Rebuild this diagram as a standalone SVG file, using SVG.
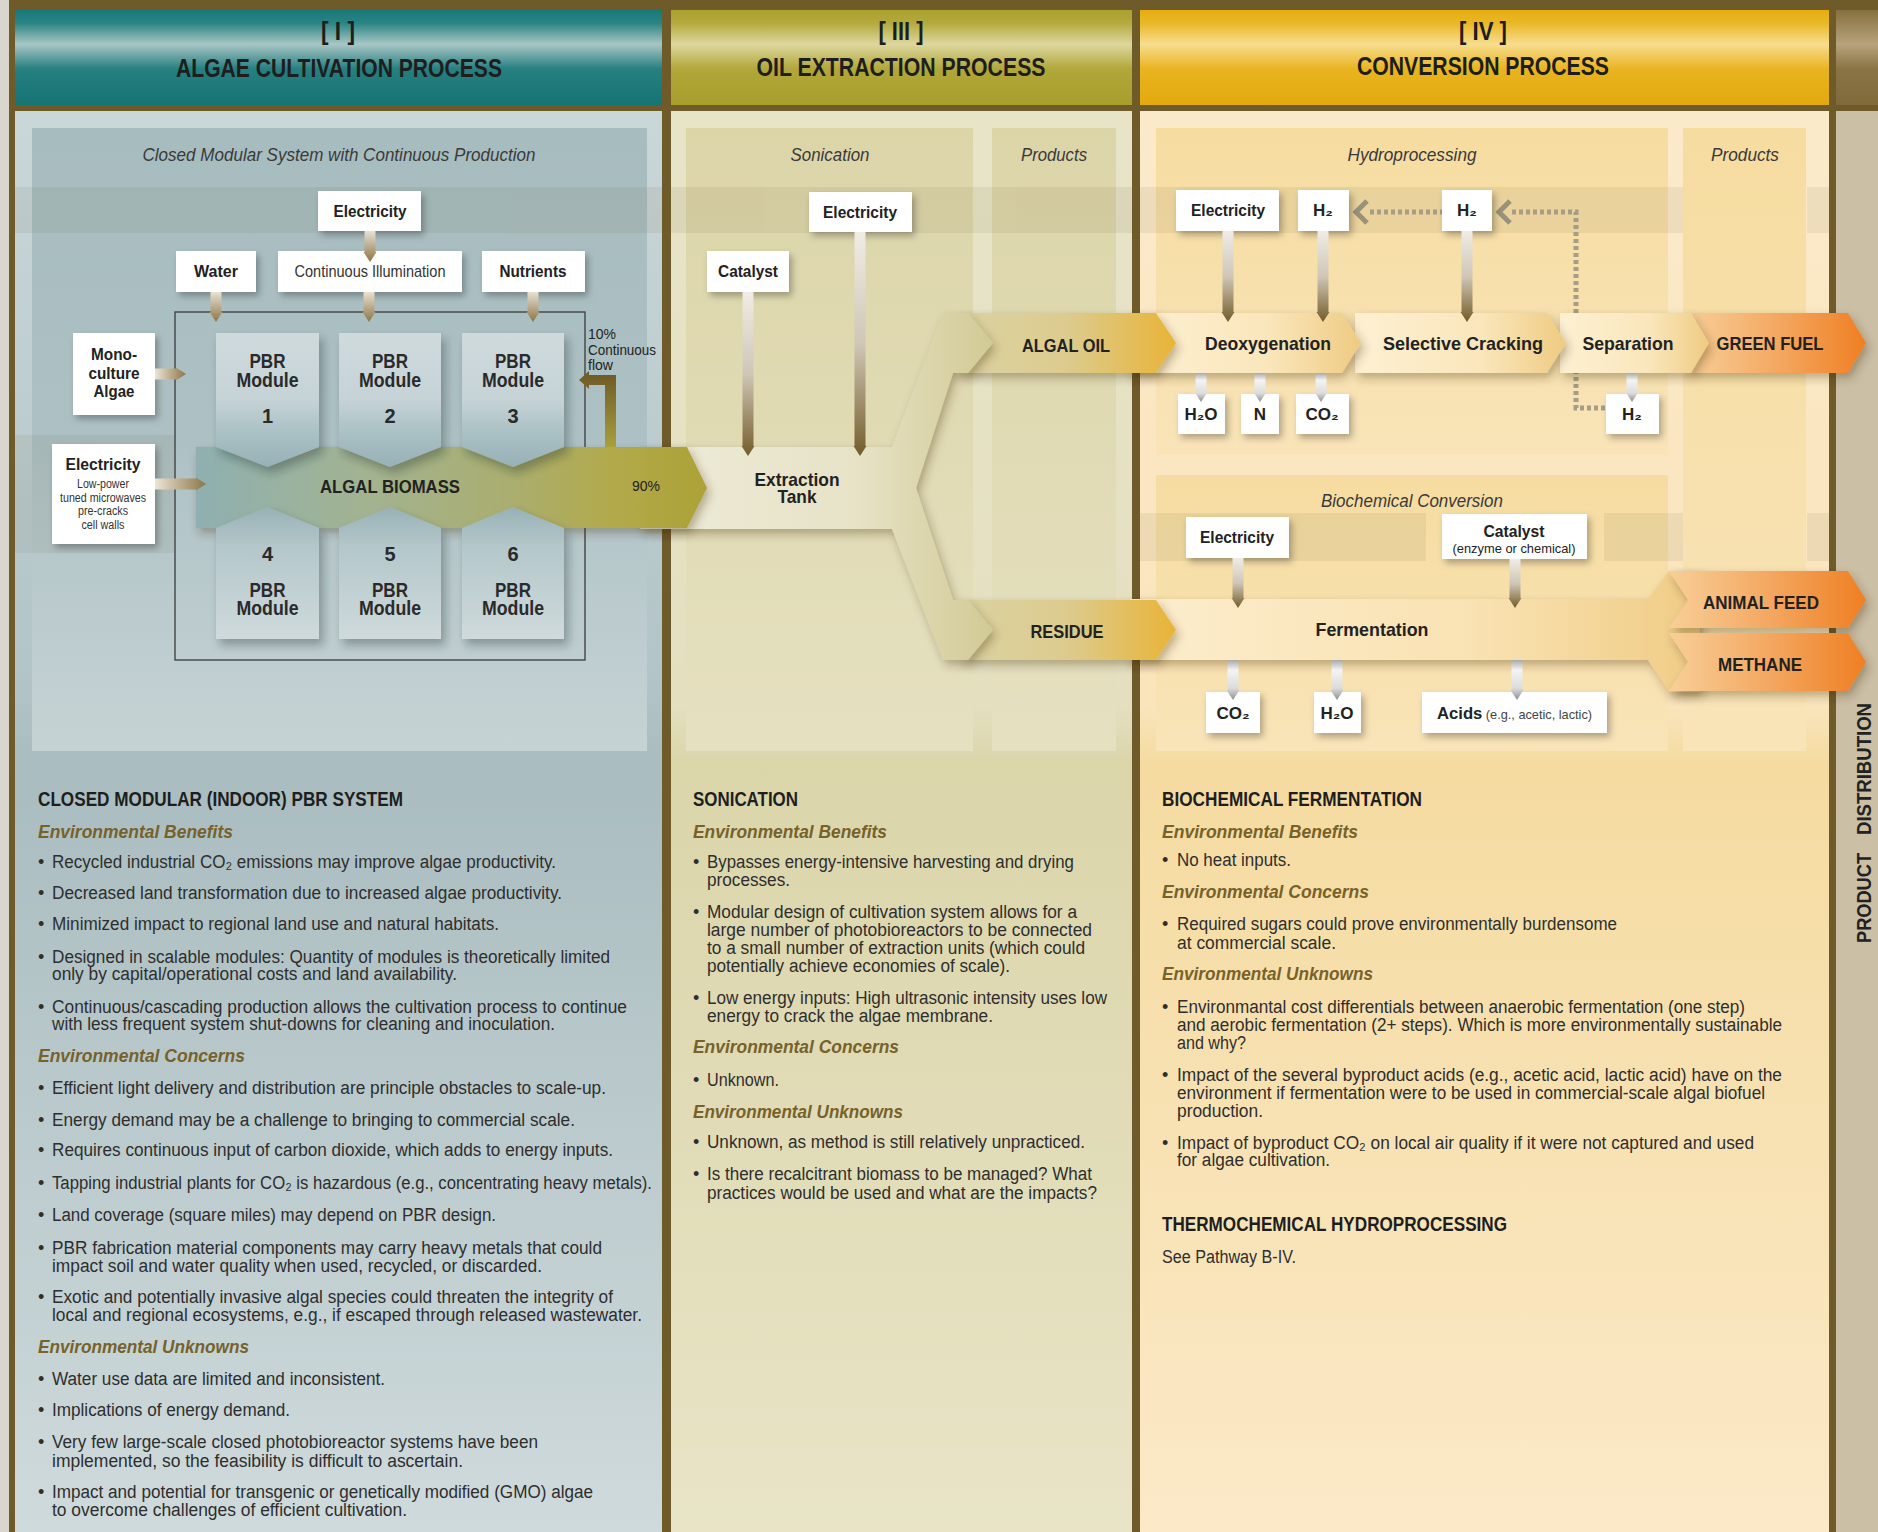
<svg xmlns="http://www.w3.org/2000/svg" width="1878" height="1532" viewBox="0 0 1878 1532">
<defs>
<style>
text{font-family:"Liberation Sans Narrow","Liberation Sans",Arial,sans-serif;fill:#222}
.hd{font-size:26px;font-weight:bold;text-anchor:middle;fill:#1e1e1e}
.sub{font-size:18px;font-style:italic;text-anchor:middle;fill:#3a3a3a}
.lb{font-size:17px;font-weight:bold;text-anchor:middle;fill:#222}
.ln{font-size:17px;text-anchor:middle;fill:#333}
.mod{font-size:20px;font-weight:bold;text-anchor:middle;fill:#2a2a2a}
.flow{font-size:19px;font-weight:bold;text-anchor:middle;fill:#222}
.sm{font-size:12px;text-anchor:middle;fill:#333}
.h2{font-size:19.5px;font-weight:bold;fill:#1e1e1e}
.eh{font-size:19px;font-weight:bold;font-style:italic;fill:#76622a}
.bt{font-size:18px;fill:#2e2e2e}
.box{fill:#fff;filter:url(#sh)}
.st1{fill:url(#gSt1)}
.st2{fill:url(#gSt2)}
.st3{fill:url(#gSt3)}
.seg{fill:url(#gSeg);filter:url(#bs)}
.prod{fill:url(#gProd);filter:url(#bs)}
.oil{fill:url(#gOil);filter:url(#bs)}
</style>
<filter id="sh" x="-20%" y="-20%" width="150%" height="170%"><feDropShadow dx="3" dy="4" stdDeviation="3.5" flood-color="#000" flood-opacity="0.3"/></filter>
<filter id="bs" x="-5%" y="-25%" width="115%" height="170%"><feDropShadow dx="3" dy="5" stdDeviation="5" flood-color="#3a2a00" flood-opacity="0.33"/></filter>
<filter id="ms" x="-20%" y="-20%" width="150%" height="150%"><feDropShadow dx="4" dy="6" stdDeviation="5" flood-color="#1a2a2a" flood-opacity="0.35"/></filter>
<linearGradient id="gHI" x1="0" y1="0" x2="0" y2="1"><stop offset="0" stop-color="#187878"/><stop offset="0.14" stop-color="#2b8585"/><stop offset="0.36" stop-color="#a9c6c5"/><stop offset="0.62" stop-color="#267f80"/><stop offset="1" stop-color="#167474"/></linearGradient>
<linearGradient id="gHIII" x1="0" y1="0" x2="0" y2="1"><stop offset="0" stop-color="#aba12e"/><stop offset="0.14" stop-color="#b4aa3e"/><stop offset="0.36" stop-color="#ddd79e"/><stop offset="0.62" stop-color="#b1a73a"/><stop offset="1" stop-color="#a89e2c"/></linearGradient>
<linearGradient id="gHIV" x1="0" y1="0" x2="0" y2="1"><stop offset="0" stop-color="#e6ad10"/><stop offset="0.14" stop-color="#eab827"/><stop offset="0.36" stop-color="#f7dd8f"/><stop offset="0.62" stop-color="#e9b420"/><stop offset="1" stop-color="#e3a90f"/></linearGradient>
<linearGradient id="gHR" x1="0" y1="0" x2="0" y2="1"><stop offset="0" stop-color="#86703f"/><stop offset="0.36" stop-color="#b7a37c"/><stop offset="0.62" stop-color="#8a7446"/><stop offset="1" stop-color="#80693a"/></linearGradient>
<linearGradient id="gBI" x1="0" y1="0" x2="0" y2="1"><stop offset="0" stop-color="#cad7d9"/><stop offset="0.4" stop-color="#b2c4c7"/><stop offset="0.46" stop-color="#a9bcbf"/><stop offset="1" stop-color="#cfdadc"/></linearGradient>
<linearGradient id="gBIi" x1="0" y1="0" x2="0" y2="1"><stop offset="0" stop-color="#a7bcbf"/><stop offset="0.5" stop-color="#adc1c4"/><stop offset="1" stop-color="#c6d3d5"/></linearGradient>
<linearGradient id="gBIII" x1="0" y1="0" x2="0" y2="1"><stop offset="0" stop-color="#e8e4c8"/><stop offset="0.42" stop-color="#e3dfbf"/><stop offset="0.46" stop-color="#dbd5aa"/><stop offset="1" stop-color="#e8e4c6"/></linearGradient>
<linearGradient id="gBIIIi" x1="0" y1="0" x2="0" y2="1"><stop offset="0" stop-color="#dcd5a8"/><stop offset="1" stop-color="#e5e0c0"/></linearGradient>
<linearGradient id="gBIV" x1="0" y1="0" x2="0" y2="1"><stop offset="0" stop-color="#fbeaca"/><stop offset="0.42" stop-color="#f9e4bb"/><stop offset="0.46" stop-color="#f5dba0"/><stop offset="1" stop-color="#fbe9c8"/></linearGradient>
<linearGradient id="gBIVi" x1="0" y1="0" x2="0" y2="1"><stop offset="0" stop-color="#f6dca0"/><stop offset="1" stop-color="#f9e4b8"/></linearGradient>
<linearGradient id="gMt" x1="0" y1="0" x2="0" y2="1"><stop offset="0" stop-color="#cfdadd"/><stop offset="0.5" stop-color="#c6d3d6"/><stop offset="0.75" stop-color="#a9c0c4"/><stop offset="1" stop-color="#98b1b6"/></linearGradient>
<linearGradient id="gMb" x1="0" y1="0" x2="0" y2="1"><stop offset="0" stop-color="#98b1b6"/><stop offset="0.3" stop-color="#b4c7ca"/><stop offset="1" stop-color="#cfdadc"/></linearGradient>
<linearGradient id="gBio" gradientUnits="userSpaceOnUse" x1="196" y1="0" x2="707" y2="0"><stop offset="0" stop-color="#8fb0b1"/><stop offset="0.35" stop-color="#a3b38f"/><stop offset="0.62" stop-color="#aaae6e"/><stop offset="0.82" stop-color="#b2a94a"/><stop offset="1" stop-color="#aca236"/></linearGradient>
<linearGradient id="gRet" x1="0" y1="1" x2="0" y2="0"><stop offset="0" stop-color="#a89f3d"/><stop offset="1" stop-color="#6d5826"/></linearGradient>
<linearGradient id="gY" gradientUnits="userSpaceOnUse" x1="640" y1="0" x2="993" y2="0"><stop offset="0" stop-color="#eeebd9"/><stop offset="0.6" stop-color="#e7e3c7"/><stop offset="1" stop-color="#d2ca95"/></linearGradient>
<linearGradient id="gOil" x1="0" y1="0" x2="1" y2="0"><stop offset="0" stop-color="#dbd3a2"/><stop offset="0.5" stop-color="#dccb8e"/><stop offset="1" stop-color="#e9b437"/></linearGradient>
<linearGradient id="gSeg" x1="0" y1="0" x2="1" y2="0"><stop offset="0" stop-color="#fdf0d2"/><stop offset="0.6" stop-color="#fae6bb"/><stop offset="1" stop-color="#efcb82"/></linearGradient>
<linearGradient id="gProd" x1="0" y1="0" x2="1" y2="0"><stop offset="0" stop-color="#f8cf98"/><stop offset="0.5" stop-color="#f4a862"/><stop offset="1" stop-color="#ef7f22"/></linearGradient>
<linearGradient id="gFer" gradientUnits="userSpaceOnUse" x1="1130" y1="0" x2="1700" y2="0"><stop offset="0" stop-color="#fcedcc"/><stop offset="0.6" stop-color="#f9e2b3"/><stop offset="1" stop-color="#f0cc85"/></linearGradient>
<linearGradient id="gSt1" x1="0" y1="0" x2="0" y2="1"><stop offset="0" stop-color="#e9e1d3"/><stop offset="1" stop-color="#8d7546"/></linearGradient>
<linearGradient id="gStH" x1="0" y1="0" x2="1" y2="0"><stop offset="0" stop-color="#ece4d6"/><stop offset="1" stop-color="#8d7546"/></linearGradient>
<linearGradient id="gSt2" x1="0" y1="0" x2="0" y2="1"><stop offset="0" stop-color="#f0ece6"/><stop offset="0.5" stop-color="#cfc6b6"/><stop offset="1" stop-color="#735c2a"/></linearGradient>
<linearGradient id="gSt3" x1="0" y1="0" x2="0" y2="1"><stop offset="0" stop-color="#a9a9a9"/><stop offset="0.25" stop-color="#f4f4f4"/><stop offset="0.7" stop-color="#dcdcdc"/><stop offset="1" stop-color="#8f8f8f"/></linearGradient>
</defs>

<!-- frame and panels -->
<g id="frame">
<rect x="0" y="0" width="1878" height="1532" fill="#6f5a29"/>
<rect x="0" y="0" width="9" height="1532" fill="#d9d7cd"/>
<rect x="15" y="10" width="647" height="95" fill="url(#gHI)"/>
<rect x="671" y="10" width="461" height="95" fill="url(#gHIII)"/>
<rect x="1140" y="10" width="689" height="95" fill="url(#gHIV)"/>
<rect x="1836" y="10" width="42" height="95" fill="url(#gHR)"/>
<rect x="15" y="111" width="647" height="1421" fill="url(#gBI)"/>
<rect x="671" y="111" width="461" height="1421" fill="url(#gBIII)"/>
<rect x="1140" y="111" width="689" height="1421" fill="url(#gBIV)"/>
<rect x="1836" y="111" width="42" height="1421" fill="#cbbfa5"/>
<rect x="32" y="128" width="615" height="623" fill="url(#gBIi)"/>
<rect x="686" y="128" width="287" height="623" fill="url(#gBIIIi)"/>
<rect x="992" y="128" width="124" height="623" fill="url(#gBIIIi)"/>
<rect x="1156" y="128" width="512" height="327" fill="url(#gBIVi)"/>
<rect x="1156" y="475" width="512" height="276" fill="url(#gBIVi)"/>
<rect x="1683" y="128" width="123" height="623" fill="url(#gBIVi)"/>
</g>
<g id="row-bands" fill="#5a4a20" opacity="0.08">
<rect x="15" y="187" width="647" height="46"/>
<rect x="671" y="187" width="461" height="46"/>
<rect x="1140" y="187" width="543" height="46"/>
<rect x="1807" y="187" width="22" height="46"/>
<rect x="15" y="435" width="160" height="118"/>
<rect x="1140" y="513" width="286" height="48"/>
<rect x="1604" y="513" width="79" height="48"/>
<rect x="1807" y="513" width="22" height="48"/>
</g>

<!-- headers -->
<g id="headers">
<text class="hd" x="338" y="40" textLength="34" lengthAdjust="spacingAndGlyphs">[ I ]</text>
<text class="hd" x="339" y="77" textLength="326" lengthAdjust="spacingAndGlyphs">ALGAE CULTIVATION PROCESS</text>
<text class="hd" x="901" y="40" textLength="45" lengthAdjust="spacingAndGlyphs">[ III ]</text>
<text class="hd" x="901" y="76" textLength="289" lengthAdjust="spacingAndGlyphs">OIL EXTRACTION PROCESS</text>
<text class="hd" x="1483" y="40" textLength="48" lengthAdjust="spacingAndGlyphs">[ IV ]</text>
<text class="hd" x="1483" y="75" textLength="252" lengthAdjust="spacingAndGlyphs">CONVERSION PROCESS</text>
<text font-size="20" font-weight="bold" fill="#2a2620" text-anchor="middle" transform="translate(1871,769) rotate(-90)" textLength="132" lengthAdjust="spacingAndGlyphs">DISTRIBUTION</text>
<text font-size="20" font-weight="bold" fill="#2a2620" text-anchor="middle" transform="translate(1871,898) rotate(-90)" textLength="90" lengthAdjust="spacingAndGlyphs">PRODUCT</text>
</g>

<!-- column titles -->
<g id="column-titles">
<text class="sub" x="339" y="161" textLength="393" lengthAdjust="spacingAndGlyphs">Closed Modular System with Continuous Production</text>
<text class="sub" x="830" y="161" textLength="79" lengthAdjust="spacingAndGlyphs">Sonication</text>
<text class="sub" x="1054" y="161" textLength="66" lengthAdjust="spacingAndGlyphs">Products</text>
<text class="sub" x="1412" y="161" textLength="129" lengthAdjust="spacingAndGlyphs">Hydroprocessing</text>
<text class="sub" x="1745" y="161" textLength="68" lengthAdjust="spacingAndGlyphs">Products</text>
<text class="sub" x="1412" y="507" textLength="182" lengthAdjust="spacingAndGlyphs">Biochemical Conversion</text>
</g>

<!-- flow bands (connectors) -->
<g id="connectors">
<rect x="175" y="312" width="410" height="348" fill="none" stroke="#3a3a3a" stroke-width="1.3"/>
<g fill="none" stroke="#a59d86" stroke-width="5" stroke-dasharray="4 3">
<path d="M1370,212 H1442"/>
<path d="M1512,212 H1576 V316"/>
<path d="M1576,370 V408 H1606"/>
</g>
<g fill="none" stroke="#9a917a" stroke-width="5">
<polyline points="1367,201 1356,212 1367,223"/>
<polyline points="1510,201 1499,212 1510,223"/>
</g>
<polygon class="prod" points="1688,313 1848,313 1866,343 1848,373 1688,373"/>
<polygon class="seg" points="1560,313 1691,313 1709,343 1691,373 1560,373"/>
<polygon class="seg" points="1355,313 1547,313 1566,343 1547,373 1355,373"/>
<polygon class="seg" points="1130,313 1342,313 1361,343 1342,373 1130,373"/>
<polygon fill="url(#gFer)" filter="url(#bs)" points="1130,599 1648,599 1669,571 1700,571 1700,692 1669,692 1648,660 1130,660"/>
<polygon class="prod" points="1669,571 1848,571 1866,600 1848,628 1669,628 1688,600"/>
<polygon class="prod" points="1669,633 1848,633 1866,662 1848,691 1669,691 1688,662"/>
<polygon class="oil" points="958,313 1156,313 1176,343 1156,373 958,373 990,343"/>
<polygon class="oil" points="958,600 1156,600 1176,630 1156,660 958,660 990,630"/>
<polygon fill="url(#gY)" filter="url(#bs)" points="640,447 892,447 943,313 968,313 993,343 968,373 953,373 916,488 953,600 968,600 993,630 968,660 943,660 892,529 640,529"/>
<polygon fill="url(#gBio)" filter="url(#bs)" points="196,447 687,447 707,488 687,528 196,528"/>
<path d="M605,447 L605,385 L589,385 L589,389 L579,380 L589,371 L589,375 L616,375 L616,447 Z" fill="url(#gRet)"/>
</g>

<!-- PBR modules -->
<g id="pbr-modules" filter="url(#ms)">
<polygon id="pbr1" fill="url(#gMt)" points="216,333 319,333 319,447 267.5,467 216,447"/>
<polygon id="pbr2" fill="url(#gMt)" points="339,333 441,333 441,447 390,467 339,447"/>
<polygon id="pbr3" fill="url(#gMt)" points="462,333 564,333 564,447 513,467 462,447"/>
<polygon id="pbr4" fill="url(#gMb)" points="216,528 267.5,507 319,528 319,639 216,639"/>
<polygon id="pbr5" fill="url(#gMb)" points="339,528 390,507 441,528 441,639 339,639"/>
<polygon id="pbr6" fill="url(#gMb)" points="462,528 513,507 564,528 564,639 462,639"/>
</g>

<!-- input / output boxes -->
<g id="boxes">
<rect id="n-elec1" class="box" x="318" y="191" width="103" height="40"/>
<rect id="n-water" class="box" x="176" y="251" width="80" height="41"/>
<rect id="n-illum" class="box" x="278" y="251" width="184" height="41"/>
<rect id="n-nutr" class="box" x="482" y="251" width="103" height="41"/>
<rect id="n-mono" class="box" x="73" y="333" width="82" height="82"/>
<rect id="n-elec2" class="box" x="52" y="444" width="103" height="100"/>
<rect id="n-elec3" class="box" x="809" y="192" width="103" height="40"/>
<rect id="n-cat1" class="box" x="707" y="251" width="82" height="41"/>
<rect id="n-elec4" class="box" x="1176" y="190" width="103" height="41"/>
<rect id="n-h2a" class="box" x="1298" y="190" width="51" height="41"/>
<rect id="n-h2b" class="box" x="1442" y="190" width="50" height="41"/>
<rect id="n-h2o1" class="box" x="1178" y="394" width="47" height="40"/>
<rect id="n-n" class="box" x="1241" y="394" width="38" height="40"/>
<rect id="n-co2a" class="box" x="1296" y="394" width="53" height="40"/>
<rect id="n-h2c" class="box" x="1606" y="394" width="53" height="40"/>
<rect id="n-elec5" class="box" x="1186" y="517" width="103" height="41"/>
<rect id="n-cat2" class="box" x="1442" y="514" width="145" height="45"/>
<rect id="n-co2b" class="box" x="1206" y="692" width="54" height="41"/>
<rect id="n-h2o2" class="box" x="1314" y="692" width="47" height="41"/>
<rect id="n-acids" class="box" x="1422" y="692" width="185" height="41"/>
</g>

<!-- stems / arrows -->
<g id="arrows">
<polygon class="st1" points="364.5,231 375.5,231 375.5,252 376.5,252 370,262 363.5,252 364.5,252"/>
<polygon class="st1" points="210.5,292 221.5,292 221.5,312 222.5,312 216,322 209.5,312 210.5,312"/>
<polygon class="st1" points="363.5,292 374.5,292 374.5,312 375.5,312 369,322 362.5,312 363.5,312"/>
<polygon class="st1" points="527.5,292 538.5,292 538.5,312 539.5,312 533,322 526.5,312 527.5,312"/>
<polygon fill="url(#gStH)" points="155,368.5 176,368.5 176,367.5 186,374 176,380.5 176,379.5 155,379.5"/>
<polygon fill="url(#gStH)" points="155,478.5 196,478.5 196,477.5 206,484 196,490.5 196,489.5 155,489.5"/>
<polygon class="st2" points="742.5,292 753.5,292 753.5,446 754.5,446 748,456 741.5,446 742.5,446"/>
<polygon class="st2" points="854.5,232 865.5,232 865.5,446 866.5,446 860,456 853.5,446 854.5,446"/>
<polygon class="st2" points="1222.5,231 1233.5,231 1233.5,312 1234.5,312 1228,322 1221.5,312 1222.5,312"/>
<polygon class="st2" points="1317.5,231 1328.5,231 1328.5,312 1329.5,312 1323,322 1316.5,312 1317.5,312"/>
<polygon class="st2" points="1461.5,231 1472.5,231 1472.5,312 1473.5,312 1467,322 1460.5,312 1461.5,312"/>
<polygon class="st3" points="1195.5,373 1206.5,373 1206.5,392 1207.5,392 1201,402 1194.5,392 1195.5,392"/>
<polygon class="st3" points="1254.5,373 1265.5,373 1265.5,392 1266.5,392 1260,402 1253.5,392 1254.5,392"/>
<polygon class="st3" points="1315.5,373 1326.5,373 1326.5,392 1327.5,392 1321,402 1314.5,392 1315.5,392"/>
<polygon class="st3" points="1626.5,373 1637.5,373 1637.5,392 1638.5,392 1632,402 1625.5,392 1626.5,392"/>
<polygon class="st2" points="1232.5,558 1243.5,558 1243.5,598 1244.5,598 1238,608 1231.5,598 1232.5,598"/>
<polygon class="st2" points="1509.5,559 1520.5,559 1520.5,598 1521.5,598 1515,608 1508.5,598 1509.5,598"/>
<polygon class="st3" points="1227.5,660 1238.5,660 1238.5,690 1239.5,690 1233,700 1226.5,690 1227.5,690"/>
<polygon class="st3" points="1331.5,660 1342.5,660 1342.5,690 1343.5,690 1337,700 1330.5,690 1331.5,690"/>
<polygon class="st3" points="1511.5,660 1522.5,660 1522.5,690 1523.5,690 1517,700 1510.5,690 1511.5,690"/>
</g>

<!-- node labels -->
<g id="labels">
<text class="lb" x="370" y="217" textLength="73" lengthAdjust="spacingAndGlyphs">Electricity</text>
<text class="lb" x="216" y="277" textLength="44" lengthAdjust="spacingAndGlyphs">Water</text>
<text class="ln" x="370" y="277" textLength="151" lengthAdjust="spacingAndGlyphs">Continuous Illumination</text>
<text class="lb" x="533" y="277" textLength="67" lengthAdjust="spacingAndGlyphs">Nutrients</text>
<text class="lb" font-size="18" x="114" y="360" textLength="46" lengthAdjust="spacingAndGlyphs">Mono-</text>
<text class="lb" font-size="18" x="114" y="379" textLength="51" lengthAdjust="spacingAndGlyphs">culture</text>
<text class="lb" font-size="18" x="114" y="397" textLength="41" lengthAdjust="spacingAndGlyphs">Algae</text>
<text class="lb" x="103" y="470" textLength="75" lengthAdjust="spacingAndGlyphs">Electricity</text>
<text class="sm" x="103" y="488" textLength="52" lengthAdjust="spacingAndGlyphs">Low-power</text>
<text class="sm" x="103" y="502" textLength="86" lengthAdjust="spacingAndGlyphs">tuned microwaves</text>
<text class="sm" x="103" y="515" textLength="50" lengthAdjust="spacingAndGlyphs">pre-cracks</text>
<text class="sm" x="103" y="529" textLength="43" lengthAdjust="spacingAndGlyphs">cell walls</text>
<text class="mod" x="267.5" y="368" textLength="36" lengthAdjust="spacingAndGlyphs">PBR</text>
<text class="mod" x="267.5" y="387" textLength="62" lengthAdjust="spacingAndGlyphs">Module</text>
<text class="mod" x="267.5" y="423">1</text>
<text class="mod" x="390" y="368" textLength="36" lengthAdjust="spacingAndGlyphs">PBR</text>
<text class="mod" x="390" y="387" textLength="62" lengthAdjust="spacingAndGlyphs">Module</text>
<text class="mod" x="390" y="423">2</text>
<text class="mod" x="513" y="368" textLength="36" lengthAdjust="spacingAndGlyphs">PBR</text>
<text class="mod" x="513" y="387" textLength="62" lengthAdjust="spacingAndGlyphs">Module</text>
<text class="mod" x="513" y="423">3</text>
<text class="mod" x="267.5" y="561">4</text>
<text class="mod" x="267.5" y="597" textLength="36" lengthAdjust="spacingAndGlyphs">PBR</text>
<text class="mod" x="267.5" y="615" textLength="62" lengthAdjust="spacingAndGlyphs">Module</text>
<text class="mod" x="390" y="561">5</text>
<text class="mod" x="390" y="597" textLength="36" lengthAdjust="spacingAndGlyphs">PBR</text>
<text class="mod" x="390" y="615" textLength="62" lengthAdjust="spacingAndGlyphs">Module</text>
<text class="mod" x="513" y="561">6</text>
<text class="mod" x="513" y="597" textLength="36" lengthAdjust="spacingAndGlyphs">PBR</text>
<text class="mod" x="513" y="615" textLength="62" lengthAdjust="spacingAndGlyphs">Module</text>
<text class="flow" x="390" y="493" textLength="140" lengthAdjust="spacingAndGlyphs">ALGAL BIOMASS</text>
<text font-size="14" fill="#333" text-anchor="middle" x="646" y="491">90%</text>
<text font-size="15" fill="#444" x="588" y="339" textLength="28" lengthAdjust="spacingAndGlyphs">10%</text>
<text font-size="15" fill="#444" x="588" y="355" textLength="68" lengthAdjust="spacingAndGlyphs">Continuous</text>
<text font-size="15" fill="#444" x="588" y="370" textLength="25" lengthAdjust="spacingAndGlyphs">flow</text>

<text class="lb" x="860" y="218" textLength="74" lengthAdjust="spacingAndGlyphs">Electricity</text>
<text class="lb" x="748" y="277" textLength="60" lengthAdjust="spacingAndGlyphs">Catalyst</text>
<text class="flow" x="797" y="486" textLength="85" lengthAdjust="spacingAndGlyphs">Extraction</text>
<text class="flow" x="797" y="503" textLength="39" lengthAdjust="spacingAndGlyphs">Tank</text>
<text class="flow" x="1066" y="352" textLength="88" lengthAdjust="spacingAndGlyphs">ALGAL OIL</text>
<text class="flow" x="1067" y="638" textLength="73" lengthAdjust="spacingAndGlyphs">RESIDUE</text>

<text class="lb" x="1228" y="216" textLength="74" lengthAdjust="spacingAndGlyphs">Electricity</text>
<text class="lb" x="1323" y="216">H₂</text>
<text class="lb" x="1467" y="216">H₂</text>
<text class="flow" x="1268" y="350" textLength="126" lengthAdjust="spacingAndGlyphs">Deoxygenation</text>
<text class="flow" x="1463" y="350" textLength="160" lengthAdjust="spacingAndGlyphs">Selective Cracking</text>
<text class="flow" x="1628" y="350" textLength="91" lengthAdjust="spacingAndGlyphs">Separation</text>
<text class="flow" x="1770" y="350" textLength="107" lengthAdjust="spacingAndGlyphs">GREEN FUEL</text>
<text class="lb" x="1201" y="420">H₂O</text>
<text class="lb" x="1260" y="420">N</text>
<text class="lb" x="1322" y="420">CO₂</text>
<text class="lb" x="1632" y="420">H₂</text>
<text class="lb" x="1237" y="543" textLength="74" lengthAdjust="spacingAndGlyphs">Electricity</text>
<text class="lb" x="1514" y="537" textLength="61" lengthAdjust="spacingAndGlyphs">Catalyst</text>
<text font-size="13" fill="#444" text-anchor="middle" x="1514" y="553" textLength="123" lengthAdjust="spacingAndGlyphs">(enzyme or chemical)</text>
<text class="flow" x="1372" y="636" textLength="113" lengthAdjust="spacingAndGlyphs">Fermentation</text>
<text class="flow" x="1761" y="609" textLength="116" lengthAdjust="spacingAndGlyphs">ANIMAL FEED</text>
<text class="flow" x="1760" y="671" textLength="84" lengthAdjust="spacingAndGlyphs">METHANE</text>
<text class="lb" x="1233" y="719">CO₂</text>
<text class="lb" x="1337" y="719">H₂O</text>
<text class="lb" x="1437" y="719" style="text-anchor:start" textLength="155" lengthAdjust="spacingAndGlyphs">Acids<tspan font-weight="normal" font-size="13" fill="#444"> (e.g., acetic, lactic)</tspan></text>
</g>

<!-- Panel I notes -->
<g id="notes-I">
<text class="h2" x="38" y="806" textLength="365" lengthAdjust="spacingAndGlyphs">CLOSED MODULAR (INDOOR) PBR SYSTEM</text>
<text class="eh" x="38" y="838" textLength="195" lengthAdjust="spacingAndGlyphs">Environmental Benefits</text>
<text class="bt" x="38" y="868">•</text><text class="bt" x="52" y="868" textLength="504" lengthAdjust="spacingAndGlyphs">Recycled industrial CO₂ emissions may improve algae productivity.</text>
<text class="bt" x="38" y="899">•</text><text class="bt" x="52" y="899" textLength="510" lengthAdjust="spacingAndGlyphs">Decreased land transformation due to increased algae productivity.</text>
<text class="bt" x="38" y="930">•</text><text class="bt" x="52" y="930" textLength="447" lengthAdjust="spacingAndGlyphs">Minimized impact to regional land use and natural habitats.</text>
<text class="bt" x="38" y="963">•</text><text class="bt" x="52" y="963" textLength="558" lengthAdjust="spacingAndGlyphs">Designed in scalable modules: Quantity of modules is theoretically limited</text>
<text class="bt" x="52" y="980" textLength="405" lengthAdjust="spacingAndGlyphs">only by capital/operational costs and land availability.</text>
<text class="bt" x="38" y="1013">•</text><text class="bt" x="52" y="1013" textLength="575" lengthAdjust="spacingAndGlyphs">Continuous/cascading production allows the cultivation process to continue</text>
<text class="bt" x="52" y="1030" textLength="503" lengthAdjust="spacingAndGlyphs">with less frequent system shut-downs for cleaning and inoculation.</text>
<text class="eh" x="38" y="1062" textLength="207" lengthAdjust="spacingAndGlyphs">Environmental Concerns</text>
<text class="bt" x="38" y="1094">•</text><text class="bt" x="52" y="1094" textLength="554" lengthAdjust="spacingAndGlyphs">Efficient light delivery and distribution are principle obstacles to scale-up.</text>
<text class="bt" x="38" y="1126">•</text><text class="bt" x="52" y="1126" textLength="523" lengthAdjust="spacingAndGlyphs">Energy demand may be a challenge to bringing to commercial scale.</text>
<text class="bt" x="38" y="1156">•</text><text class="bt" x="52" y="1156" textLength="561" lengthAdjust="spacingAndGlyphs">Requires continuous input of carbon dioxide, which adds to energy inputs.</text>
<text class="bt" x="38" y="1189">•</text><text class="bt" x="52" y="1189" textLength="600" lengthAdjust="spacingAndGlyphs">Tapping industrial plants for CO₂ is hazardous (e.g., concentrating heavy metals).</text>
<text class="bt" x="38" y="1221">•</text><text class="bt" x="52" y="1221" textLength="444" lengthAdjust="spacingAndGlyphs">Land coverage (square miles) may depend on PBR design.</text>
<text class="bt" x="38" y="1254">•</text><text class="bt" x="52" y="1254" textLength="550" lengthAdjust="spacingAndGlyphs">PBR fabrication material components may carry heavy metals that could</text>
<text class="bt" x="52" y="1272" textLength="490" lengthAdjust="spacingAndGlyphs">impact soil and water quality when used, recycled, or discarded.</text>
<text class="bt" x="38" y="1303">•</text><text class="bt" x="52" y="1303" textLength="561" lengthAdjust="spacingAndGlyphs">Exotic and potentially invasive algal species could threaten the integrity of</text>
<text class="bt" x="52" y="1321" textLength="590" lengthAdjust="spacingAndGlyphs">local and regional ecosystems, e.g., if escaped through released wastewater.</text>
<text class="eh" x="38" y="1353" textLength="211" lengthAdjust="spacingAndGlyphs">Environmental Unknowns</text>
<text class="bt" x="38" y="1385">•</text><text class="bt" x="52" y="1385" textLength="333" lengthAdjust="spacingAndGlyphs">Water use data are limited and inconsistent.</text>
<text class="bt" x="38" y="1416">•</text><text class="bt" x="52" y="1416" textLength="238" lengthAdjust="spacingAndGlyphs">Implications of energy demand.</text>
<text class="bt" x="38" y="1448">•</text><text class="bt" x="52" y="1448" textLength="486" lengthAdjust="spacingAndGlyphs">Very few large-scale closed photobioreactor systems have been</text>
<text class="bt" x="52" y="1467" textLength="411" lengthAdjust="spacingAndGlyphs">implemented, so the feasibility is difficult to ascertain.</text>
<text class="bt" x="38" y="1498">•</text><text class="bt" x="52" y="1498" textLength="541" lengthAdjust="spacingAndGlyphs">Impact and potential for transgenic or genetically modified (GMO) algae</text>
<text class="bt" x="52" y="1516" textLength="355" lengthAdjust="spacingAndGlyphs">to overcome challenges of efficient cultivation.</text>
</g>

<!-- Panel III notes -->
<g id="notes-III">
<text class="h2" x="693" y="806" textLength="105" lengthAdjust="spacingAndGlyphs">SONICATION</text>
<text class="eh" x="693" y="838" textLength="194" lengthAdjust="spacingAndGlyphs">Environmental Benefits</text>
<text class="bt" x="693" y="868">•</text><text class="bt" x="707" y="868" textLength="367" lengthAdjust="spacingAndGlyphs">Bypasses energy-intensive harvesting and drying</text>
<text class="bt" x="707" y="886" textLength="83" lengthAdjust="spacingAndGlyphs">processes.</text>
<text class="bt" x="693" y="918">•</text><text class="bt" x="707" y="918" textLength="370" lengthAdjust="spacingAndGlyphs">Modular design of cultivation system allows for a</text>
<text class="bt" x="707" y="936" textLength="385" lengthAdjust="spacingAndGlyphs">large number of photobioreactors to be connected</text>
<text class="bt" x="707" y="954" textLength="378" lengthAdjust="spacingAndGlyphs">to a small number of extraction units (which could</text>
<text class="bt" x="707" y="972" textLength="303" lengthAdjust="spacingAndGlyphs">potentially achieve economies of scale).</text>
<text class="bt" x="693" y="1004">•</text><text class="bt" x="707" y="1004" textLength="400" lengthAdjust="spacingAndGlyphs">Low energy inputs: High ultrasonic intensity uses low</text>
<text class="bt" x="707" y="1022" textLength="286" lengthAdjust="spacingAndGlyphs">energy to crack the algae membrane.</text>
<text class="eh" x="693" y="1053" textLength="206" lengthAdjust="spacingAndGlyphs">Environmental Concerns</text>
<text class="bt" x="693" y="1086">•</text><text class="bt" x="707" y="1086" textLength="72" lengthAdjust="spacingAndGlyphs">Unknown.</text>
<text class="eh" x="693" y="1118" textLength="210" lengthAdjust="spacingAndGlyphs">Environmental Unknowns</text>
<text class="bt" x="693" y="1148">•</text><text class="bt" x="707" y="1148" textLength="378" lengthAdjust="spacingAndGlyphs">Unknown, as method is still relatively unpracticed.</text>
<text class="bt" x="693" y="1180">•</text><text class="bt" x="707" y="1180" textLength="385" lengthAdjust="spacingAndGlyphs">Is there recalcitrant biomass to be managed? What</text>
<text class="bt" x="707" y="1199" textLength="390" lengthAdjust="spacingAndGlyphs">practices would be used and what are the impacts?</text>
</g>

<!-- Panel IV notes -->
<g id="notes-IV">
<text class="h2" x="1162" y="806" textLength="260" lengthAdjust="spacingAndGlyphs">BIOCHEMICAL FERMENTATION</text>
<text class="eh" x="1162" y="838" textLength="196" lengthAdjust="spacingAndGlyphs">Environmental Benefits</text>
<text class="bt" x="1162" y="866">•</text><text class="bt" x="1177" y="866" textLength="114" lengthAdjust="spacingAndGlyphs">No heat inputs.</text>
<text class="eh" x="1162" y="898" textLength="207" lengthAdjust="spacingAndGlyphs">Environmental Concerns</text>
<text class="bt" x="1162" y="930">•</text><text class="bt" x="1177" y="930" textLength="440" lengthAdjust="spacingAndGlyphs">Required sugars could prove environmentally burdensome</text>
<text class="bt" x="1177" y="949" textLength="159" lengthAdjust="spacingAndGlyphs">at commercial scale.</text>
<text class="eh" x="1162" y="980" textLength="211" lengthAdjust="spacingAndGlyphs">Environmental Unknowns</text>
<text class="bt" x="1162" y="1013">•</text><text class="bt" x="1177" y="1013" textLength="568" lengthAdjust="spacingAndGlyphs">Environmantal cost differentials between anaerobic fermentation (one step)</text>
<text class="bt" x="1177" y="1031" textLength="605" lengthAdjust="spacingAndGlyphs">and aerobic fermentation (2+ steps). Which is more environmentally sustainable</text>
<text class="bt" x="1177" y="1049" textLength="69" lengthAdjust="spacingAndGlyphs">and why?</text>
<text class="bt" x="1162" y="1081">•</text><text class="bt" x="1177" y="1081" textLength="605" lengthAdjust="spacingAndGlyphs">Impact of the several byproduct acids (e.g., acetic acid, lactic acid) have on the</text>
<text class="bt" x="1177" y="1099" textLength="588" lengthAdjust="spacingAndGlyphs">environment if fermentation were to be used in commercial-scale algal biofuel</text>
<text class="bt" x="1177" y="1117" textLength="86" lengthAdjust="spacingAndGlyphs">production.</text>
<text class="bt" x="1162" y="1149">•</text><text class="bt" x="1177" y="1149" textLength="577" lengthAdjust="spacingAndGlyphs">Impact of byproduct CO₂ on local air quality if it were not captured and used</text>
<text class="bt" x="1177" y="1166" textLength="153" lengthAdjust="spacingAndGlyphs">for algae cultivation.</text>
<text class="h2" x="1162" y="1231" textLength="345" lengthAdjust="spacingAndGlyphs">THERMOCHEMICAL HYDROPROCESSING</text>
<text class="bt" x="1162" y="1263" textLength="134" lengthAdjust="spacingAndGlyphs">See Pathway B-IV.</text>
</g>
</svg>
